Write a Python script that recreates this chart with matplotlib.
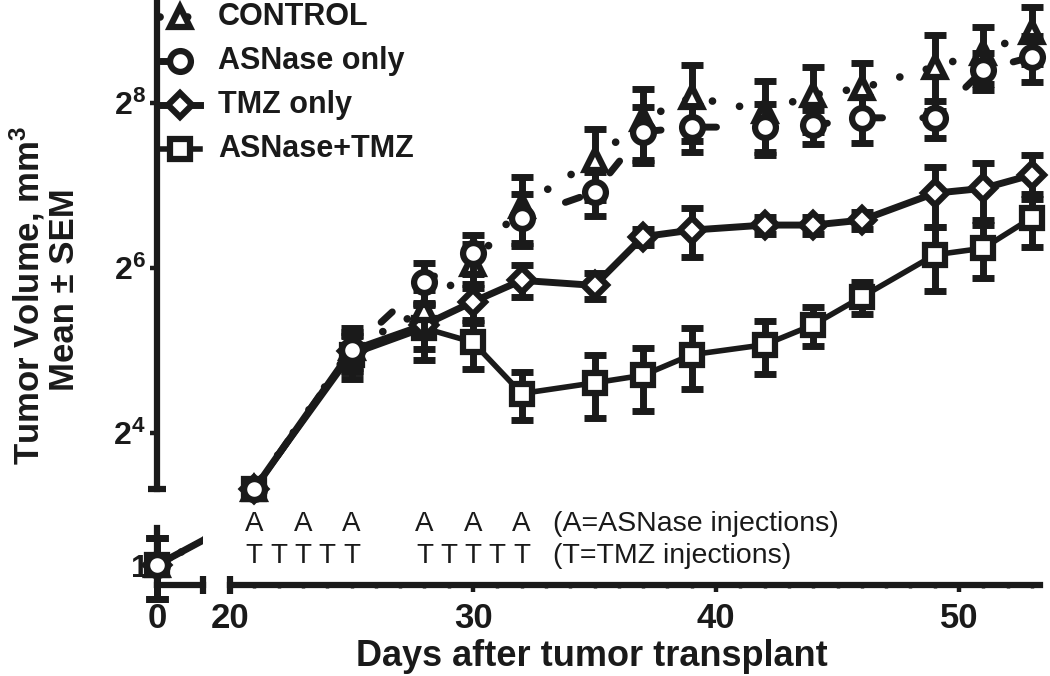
import matplotlib
matplotlib.use('Agg')
import matplotlib.pyplot as plt
from matplotlib.lines import Line2D
from matplotlib.transforms import blended_transform_factory

plt.rcParams['font.family'] = ['Liberation Sans', 'DejaVu Sans']
plt.rcParams['mathtext.fontset'] = 'custom'
plt.rcParams['mathtext.rm'] = 'Liberation Sans'
plt.rcParams['mathtext.bf'] = 'Liberation Sans:bold'
plt.rcParams['mathtext.it'] = 'Liberation Sans:italic'

# ---------------- data ----------------
days = [0, 21, 25, 28, 30, 32, 35, 37, 39, 42, 44, 46, 49, 51, 53]
control_mean = [1, 10, 32.7, 45, 66, 108, 159, 223, 269, 239, 274, 290, 347, 391, 465]
control_sem = [0.25, 0.3, 6.0, 8.2, 12, 29, 46, 64, 83, 69, 73, 68, 107, 92, 109]
asnase_mean = [1, 10, 32.2, 56.9, 72.5, 97.7, 121, 201, 209, 209, 212, 226, 226, 338, 377]
asnase_sem = [0.25, 0.3, 5.2, 9.7, 11.8, 21, 22, 46, 40, 44, 30, 43, 35, 52, 71]
tmz_mean = [1, 10, 32, 39.7, 48.2, 57.7, 55.3, 83.3, 88, 91.8, 91.8, 95.7, 120, 125, 140]
tmz_sem = [0.25, 0.3, 4.3, 7.3, 7.9, 7.7, 5.9, 5.7, 17.9, 6.3, 6.3, 6.6, 30, 29, 26]
combo_mean = [1, 10, 30.9, 38.6, 34.3, 22.3, 24.4, 26, 30.9, 33.6, 39.7, 50.2, 71.5, 75.6, 97.7]
combo_sem = [0.25, 0.3, 5.7, 9, 7, 4.5, 6.3, 6.8, 7.7, 7.4, 6.4, 6.7, 18.6, 16.6, 21.5]
series_names = ['CONTROL', 'ASNase only', 'TMZ only', 'ASNase+TMZ']
asnase_inj_days = [21, 23, 25, 28, 30, 32]
tmz_inj_days = [21, 22, 23, 24, 25, 28, 29, 30, 31, 32]
y_major = [16, 64, 256]
y_major_labels = [r'$\mathbf{2^{4}}$', r'$\mathbf{2^{6}}$', r'$\mathbf{2^{8}}$']
x_major = [20, 30, 40, 50]

# ---------------- layout ----------------
W, H = 1050, 676
K = '#1a1a1a'
fig = plt.figure(figsize=(W / 100, H / 100), dpi=100)


def box(x0, y0, x1, y1):
    return [x0 / W, 1 - y1 / H, (x1 - x0) / W, (y1 - y0) / H]


ax_up = fig.add_axes(box(157, 0, 1040, 489))
ax_ll = fig.add_axes(box(157, 528, 203, 585))
ax_lr = fig.add_axes(box(230, 528, 1040, 585))
for a in (ax_up, ax_ll, ax_lr):
    a.set_facecolor('none')
    a.set_yscale('log', base=2)
    for s in a.spines.values():
        s.set_visible(False)
        s.set_linewidth(4.5)
        s.set_color(K)

ax_up.set_xlim(16.996, 53.33)
ax_up.set_ylim(10, 2 ** 9.248)
ax_ll.set_xlim(0, 1.893)
ax_ll.set_ylim(2 ** -0.242, 2 ** 0.4485)
ax_lr.set_xlim(20, 53.33)
ax_lr.set_ylim(2 ** -0.242, 2 ** 0.4485)

series = [
    (control_mean, control_sem, dict(marker='^', ms=15, ls=(0, (0.01, 3.6)), lw=5.5)),
    (asnase_mean, asnase_sem, dict(marker='o', ms=15, ls=(0, (2.2, 5.8)), lw=5)),
    (tmz_mean, tmz_sem, dict(marker='D', ms=12, ls='-', lw=5)),
    (combo_mean, combo_sem, dict(marker='s', ms=15, ls='-', lw=4)),
]
draw_order = [3, 2, 0, 1]


def draw(ax, idx):
    for rank, i in enumerate(draw_order):
        m, s, st = series[i]
        z = 2 + rank
        xd = [days[j] for j in idx]
        md = [m[j] for j in idx]
        sd = [s[j] for j in idx]
        eb = ax.errorbar(xd, md, yerr=sd, fmt='none', ecolor=K, elinewidth=5,
                         capsize=8, capthick=5, zorder=z)
        for art in list(eb.lines[1]) + list(eb.lines[2]):
            art.set_clip_on(False)
        ax.plot(days, m, color=K, linestyle=st['ls'], lw=st['lw'],
                dash_capstyle='round', solid_capstyle='round', zorder=z + 0.1)
        ax.plot(xd, md, ls='none', marker=st['marker'], ms=st['ms'], mfc='white',
                mec=K, mew=4.5, zorder=z + 0.2, clip_on=False)


draw(ax_up, list(range(1, len(days))))
draw(ax_ll, [0])

# upper axis: y spine and ticks
ax_up.spines['left'].set_visible(True)
ax_up.set_xticks([])
ax_up.set_yticks(y_major, labels=y_major_labels, fontsize=23)
ax_up.set_yticks([2 ** 3.6, 2 ** 4.6, 2 ** 5.15, 2 ** 5.6, 2 ** 6.6, 2 ** 7.15, 2 ** 7.6,
                  2 ** 8.6, 2 ** 9.1], minor=True)
ax_up.yaxis.set_minor_formatter(plt.NullFormatter())
ax_up.tick_params(axis='y', which='major', length=5, width=3.2, pad=3, color=K, labelcolor=K)
ax_up.tick_params(axis='y', which='minor', length=2.5, width=3.2, color=K)
ax_up.plot([0], [0], marker='_', ms=13, mew=4.5, color=K, transform=ax_up.transAxes, clip_on=False)

# lower-left segment
ax_ll.spines['left'].set_visible(True)
ax_ll.spines['bottom'].set_visible(True)
ax_ll.set_yticks([1], labels=['1'], fontsize=23, fontweight='bold')
ax_ll.yaxis.set_minor_locator(plt.NullLocator())
ax_ll.set_xticks([0], labels=['0'], fontsize=25, fontweight='bold')
ax_ll.tick_params(axis='y', length=5, width=3.2, pad=1, color=K, labelcolor=K)
ax_ll.tick_params(axis='x', length=5, width=3.2, pad=7, color=K, labelcolor=K)
ax_ll.plot([1], [0], marker='|', ms=13, mew=4.5, color=K, transform=ax_ll.transAxes, clip_on=False)

# lower-right segment
ax_lr.spines['bottom'].set_visible(True)
ax_lr.set_yticks([])
ax_lr.yaxis.set_minor_locator(plt.NullLocator())
ax_lr.set_xticks(x_major, labels=[str(v) for v in x_major], fontsize=25, fontweight='bold')
ax_lr.set_xticks(range(21, 54), minor=True)
ax_lr.tick_params(axis='x', which='major', length=5, width=3.2, pad=7, color=K, labelcolor=K)
ax_lr.tick_params(axis='x', which='minor', length=2.5, width=2.5, color=K)
ax_lr.plot([0], [0], marker='|', ms=13, mew=4.5, color=K, transform=ax_lr.transAxes, clip_on=False)

# injection annotations
tr = blended_transform_factory(ax_lr.transData, fig.transFigure)
for d in asnase_inj_days:
    ax_lr.text(d, 1 - 524 / H, 'A', transform=tr, ha='center', va='center', fontsize=20, color=K)
for d in tmz_inj_days:
    ax_lr.text(d, 1 - 556 / H, 'T', transform=tr, ha='center', va='center', fontsize=20, color=K)
ax_lr.text(33.3, 1 - 524 / H, '(A=ASNase injections)', transform=tr, ha='left', va='center',
           fontsize=20.5, color=K)
ax_lr.text(33.3, 1 - 556 / H, '(T=TMZ injections)', transform=tr, ha='left', va='center',
           fontsize=20.5, color=K)

# axis labels
fig.text(592 / W, 1 - 656 / H, 'Days after tumor transplant', ha='center', va='center',
         fontsize=26, fontweight='bold', color=K)
fig.text(27 / W, 1 - 295 / H, r'Tumor Volume, mm$^{\mathbf{3}}$', rotation=90, ha='center',
         va='center', fontsize=25, fontweight='bold', color=K)
fig.text(64 / W, 1 - 290 / H, 'Mean ± SEM', rotation=90, ha='center', va='center',
         fontsize=25, fontweight='bold', color=K)

# legend (manual)
for row, i in enumerate([0, 1, 2, 3]):
    m, s, st = series[i]
    yp = 1 - (17 + row * 44) / H
    ln = Line2D([160 / W, 180 / W, 200 / W], [yp, yp, yp], transform=fig.transFigure,
                color=K, linestyle=st['ls'], lw=st['lw'], dash_capstyle='round',
                marker=st['marker'], markevery=[1], ms=st['ms'], mfc='white', mec=K, mew=4.5)
    fig.add_artist(ln)
    fig.text(218 / W, yp, series_names[i], ha='left', va='center', fontsize=22,
             fontweight='bold', color=K)

fig.savefig('out.png', dpi=100)
